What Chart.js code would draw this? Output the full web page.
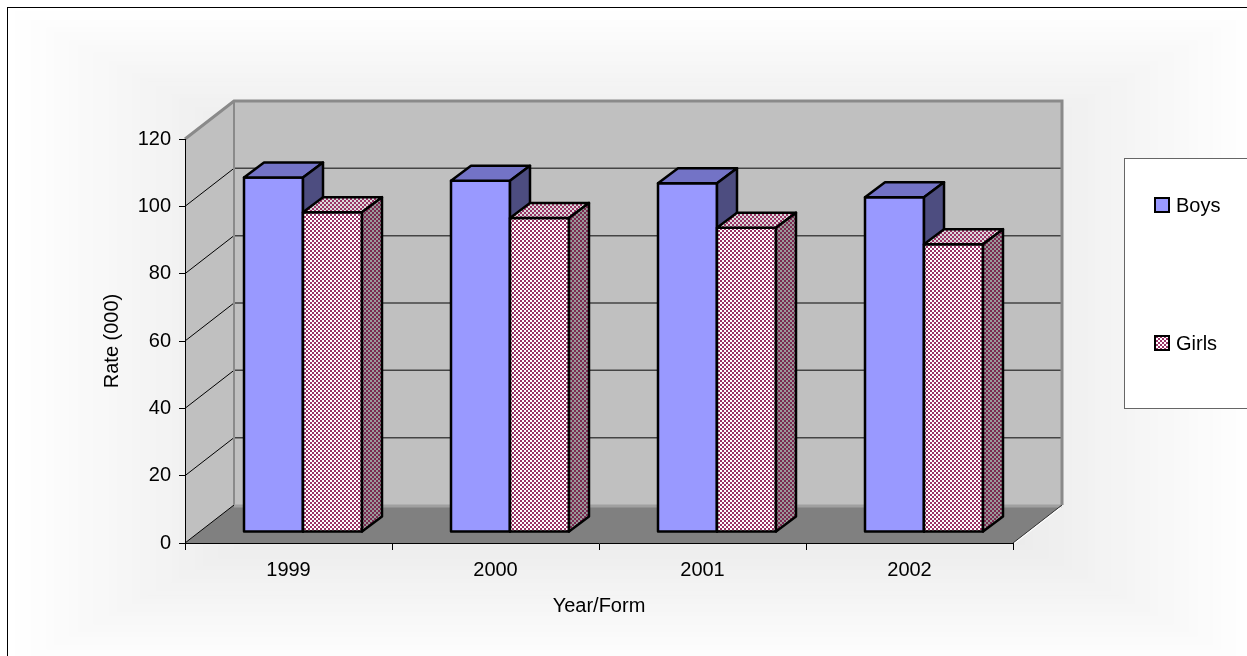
<!DOCTYPE html>
<html lang="en">
<head>
  <meta charset="UTF-8" />
  <title>Rate (000) by Year/Form</title>
  <script src="https://cdn.jsdelivr.net/npm/chart.js"></script>
  <style>
    html, body { margin: 0; padding: 0; background: #fff; }
    #chart { display: block; }
  </style>
</head>
<body>
  <canvas id="chart" width="1247" height="656"></canvas>

  <script>
    // data
    const years = ["1999", "2000", "2001", "2002"];
    const boys  = [105.3, 104.3, 103.6, 99.4];
    const girls = [95.0, 93.3, 90.4, 85.5];
    const yTicks = [0, 20, 40, 60, 80, 100, 120];

    // 3d look: wall depth and where the bars stand inside it
    const DEPTH = { dx: 49, dy: -38 };
    const FRONT = { dx: 14.5, dy: -11 };
    const BAR   = { dx: 20, dy: -15 };

    const ctx = document.getElementById("chart").getContext("2d");

    function checker(fg, bg) {
      const c = document.createElement("canvas");
      c.width = c.height = 4;
      const g = c.getContext("2d");
      g.fillStyle = bg; g.fillRect(0, 0, 4, 4);
      g.fillStyle = fg; g.fillRect(0, 0, 2, 2); g.fillRect(2, 2, 2, 2);
      return ctx.createPattern(c, "repeat");
    }

    const looks = [
      { front: "#9999ff", top: "#7373c6", side: "#4d4d80" },
      { front: checker("#993366", "#ffffff"), top: checker("#993366", "#dcdcdc"), side: checker("#7a2850", "#9a9a9a") }
    ];

    function poly(c, pts, fill, stroke, lw) {
      c.beginPath();
      c.moveTo(pts[0][0], pts[0][1]);
      for (let i = 1; i < pts.length; i++) c.lineTo(pts[i][0], pts[i][1]);
      c.closePath();
      if (fill) { c.fillStyle = fill; c.fill(); }
      if (stroke) { c.strokeStyle = stroke; c.lineWidth = lw || 1; c.stroke(); }
    }

    const scene = {
      id: "scene",
      beforeDraw(chart) {
        const c = chart.ctx;
        // rectangular soft gradient of the chart area
        const x0 = 7, y0 = 7, x1 = 1260, y1 = 670, steps = 80;
        const cx = (x0 + x1) / 2, cy = (y0 + y1) / 2;
        for (let k = 0; k < steps; k++) {
          const t = k / steps;
          const v = Math.round(255 - 50 * t);
          c.fillStyle = "rgb(" + v + "," + v + "," + v + ")";
          c.fillRect(x0 + t * (cx - x0), y0 + t * (cy - y0),
                     (x1 - x0) * (1 - t), (y1 - y0) * (1 - t));
        }
        c.strokeStyle = "#000"; c.lineWidth = 1;
        c.strokeRect(7.5, 7.5, 1300, 700);

        const ys = chart.scales.y, a = chart.chartArea;
        const L = a.left, R = a.right, B = ys.getPixelForValue(0), T = ys.getPixelForValue(120);
        const dx = DEPTH.dx, dy = DEPTH.dy;
        // back wall
        poly(c, [[L + dx, T + dy], [R + dx, T + dy], [R + dx, B + dy], [L + dx, B + dy]], "#c0c0c0");
        // side wall
        poly(c, [[L, T], [L + dx, T + dy], [L + dx, B + dy], [L, B]], "#c0c0c0");
        // floor
        poly(c, [[L, B], [R, B], [R + dx, B + dy], [L + dx, B + dy]], "#808080");

        yTicks.forEach(v => {
          const p = ys.getPixelForValue(v);
          if (v > 0 && v < 120) {
            c.strokeStyle = "#444"; c.lineWidth = 1.5;
            c.beginPath(); c.moveTo(L + dx, p + dy); c.lineTo(R + dx, p + dy); c.stroke();
          }
          c.strokeStyle = "#000"; c.lineWidth = 1;
          c.beginPath(); c.moveTo(L, p); c.lineTo(L + dx, p + dy); c.stroke();
        });
        // wall edges
        c.strokeStyle = "#8a8a8a"; c.lineWidth = 3;
        c.beginPath();
        c.moveTo(L, T); c.lineTo(L + dx, T + dy); c.lineTo(R + dx, T + dy); c.lineTo(R + dx, B + dy);
        c.stroke();
        c.lineWidth = 2;
        c.beginPath(); c.moveTo(L + dx, T + dy); c.lineTo(L + dx, B + dy); c.stroke();
        c.strokeStyle = "#a0a0a0"; c.lineWidth = 3;
        c.beginPath(); c.moveTo(L + dx, B + dy + 1); c.lineTo(R + dx, B + dy + 1); c.stroke();
        // right floor edge
        c.strokeStyle = "#333"; c.lineWidth = 1;
        c.beginPath(); c.moveTo(R, B); c.lineTo(R + dx, B + dy); c.stroke();
        c.strokeStyle = "#fff";
        c.beginPath(); c.moveTo(R, B + 1.5); c.lineTo(R + dx, B + dy + 1.5); c.stroke();
      },
      afterDatasetsDraw(chart) {
        const c = chart.ctx;
        c.save();
        c.lineJoin = "round";
        for (let i = 0; i < years.length; i++) {
          chart.data.datasets.forEach((ds, d) => {
            const el = chart.getDatasetMeta(d).data[i];
            const look = looks[d];
            const l = el.x - el.width / 2 + FRONT.dx, r = el.x + el.width / 2 + FRONT.dx;
            const t = el.y + FRONT.dy, b = el.base + FRONT.dy;
            const bx = BAR.dx, by = BAR.dy;
            poly(c, [[l, t], [r, t], [r, b], [l, b]], look.front, "#000", 2.5);
            poly(c, [[l, t], [l + bx, t + by], [r + bx, t + by], [r, t]], look.top, "#000", 2.5);
            poly(c, [[r, t], [r + bx, t + by], [r + bx, b + by], [r, b]], look.side, "#000", 2.5);
          });
        }
        c.restore();
      },
      afterDraw(chart) {
        const c = chart.ctx;
        c.save();
        c.fillStyle = "#fff";
        c.fillRect(1124.5, 158.5, 200, 250);
        c.strokeStyle = "#666"; c.lineWidth = 1;
        c.strokeRect(1124.5, 158.5, 200, 250);
        const rows = [205, 343];
        chart.data.datasets.forEach((ds, d) => {
          const y = rows[d];
          c.fillStyle = looks[d].front;
          c.fillRect(1155, y - 7, 14, 14);
          c.strokeStyle = "#000"; c.lineWidth = 2;
          c.strokeRect(1155, y - 7, 14, 14);
          c.fillStyle = "#000";
          c.font = "20px 'Liberation Sans', Arial, sans-serif";
          c.textBaseline = "middle";
          c.fillText(ds.label, 1176, y + 1);
        });
        c.restore();
      }
    };

    Chart.defaults.font.family = "'Liberation Sans', Arial, sans-serif";
    Chart.defaults.font.size = 20;
    Chart.defaults.color = "#000";

    new Chart(ctx, {
      type: "bar",
      data: {
        labels: years,
        datasets: [
          { label: "Boys",  data: boys,  backgroundColor: "rgba(0,0,0,0)", borderWidth: 0, categoryPercentage: 0.57, barPercentage: 1 },
          { label: "Girls", data: girls, backgroundColor: "rgba(0,0,0,0)", borderWidth: 0, categoryPercentage: 0.57, barPercentage: 1 }
        ]
      },
      options: {
        responsive: false,
        animation: false,
        events: [],
        layout: { padding: { top: 139, right: 234, bottom: 0, left: 0 } },
        plugins: { legend: { display: false }, tooltip: { enabled: false } },
        scales: {
          x: {
            grid: { drawOnChartArea: false, tickLength: 7, color: "#000", offset: true },
            border: { color: "#000", width: 1 },
            ticks: { padding: 8 },
            title: { display: true, text: "Year/Form", padding: { top: 0, bottom: 38 } },
            afterFit: s => { s.height = 113; }
          },
          y: {
            min: 0, max: 120,
            afterBuildTicks: s => { s.ticks = yTicks.map(v => ({ value: v })); },
            grid: { drawOnChartArea: false, tickLength: 6, color: "#000" },
            border: { color: "#000", width: 1 },
            ticks: { padding: 8 },
            title: { display: true, text: "Rate (000)", padding: { top: 100, bottom: 0 } },
            afterFit: s => { s.width = 185; }
          }
        }
      },
      plugins: [scene]
    });
  </script>
</body>
</html>
